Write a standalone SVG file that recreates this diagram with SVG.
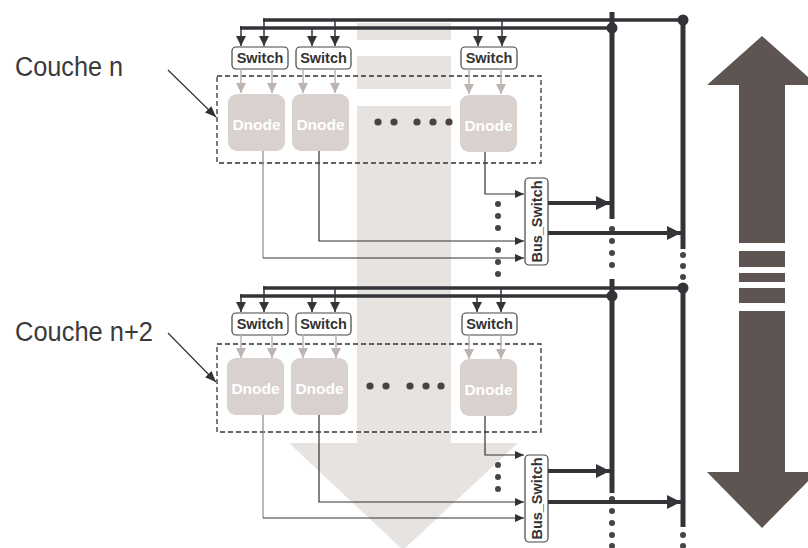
<svg xmlns="http://www.w3.org/2000/svg" width="808" height="548" viewBox="0 0 808 548">
<style>
.bus{stroke:#333338;stroke-width:3.5;fill:none}
.vbus{stroke:#333338;stroke-width:5;fill:none}
.stem{stroke:#333338;stroke-width:1.5;fill:none}
.gstem{stroke:#bdb4b0;stroke-width:1.5;fill:none}
.conn{stroke:#333;stroke-width:1.2;fill:none}
.out{stroke:#333338;stroke-width:4;fill:none}
.sw{fill:#fff;stroke:#444;stroke-width:1.2}
.swt{font-family:"Liberation Sans",Arial,sans-serif;font-weight:bold;font-size:14.5px;fill:#333;text-anchor:middle}
.dn{fill:#d9d1ce}
.dnt{font-family:"Liberation Sans",Arial,sans-serif;font-weight:bold;font-size:15.5px;fill:#fff;text-anchor:middle}
.frame{fill:none;stroke:#333;stroke-width:1.3;stroke-dasharray:5 3}
.dot{fill:#4a4343}
.lbl{font-family:"Liberation Sans",Arial,sans-serif;font-size:27px;fill:#3a3a3a}
</style>
<defs>
<marker id="ah" markerUnits="userSpaceOnUse" markerWidth="10" markerHeight="10" refX="10" refY="5" orient="auto"><path d="M0,0L10,5L0,10z" fill="#333338"/></marker>
<marker id="ahg" markerUnits="userSpaceOnUse" markerWidth="10" markerHeight="10" refX="10" refY="5" orient="auto"><path d="M0,0L10,5L0,10z" fill="#bdb4b0"/></marker>
<marker id="ahs" markerUnits="userSpaceOnUse" markerWidth="9" markerHeight="8" refX="9" refY="4" orient="auto"><path d="M0,0L9,4L0,8z" fill="#333"/></marker>
<marker id="ahb" markerUnits="userSpaceOnUse" markerWidth="14" markerHeight="14" refX="14" refY="7" orient="auto"><path d="M0,0L14,7L0,14z" fill="#333338"/></marker>
<marker id="ahp" markerUnits="userSpaceOnUse" markerWidth="11" markerHeight="9" refX="11" refY="4.5" orient="auto"><path d="M0,0L11,4.5L0,9z" fill="#333"/></marker>
</defs>

<!-- background flow arrow -->
<g id="flow" fill="#e7e3e0">
<rect x="357" y="23" width="94" height="17"/>
<rect x="357" y="56" width="94" height="33"/>
<rect x="357" y="106" width="94" height="338"/>
<polygon points="289,443 518,443 403,550"/>
</g>

<!-- big double arrow -->
<g id="updown" fill="#5e5452">
<polygon points="762,36 817,85 785,85 785,243 739,243 739,85 707,85"/>
<rect x="739" y="251" width="46" height="16"/>
<rect x="739" y="273" width="46" height="9"/>
<rect x="739" y="288" width="46" height="15"/>
<polygon points="739,311 785,311 785,472 817,472 762,528 707,472 739,472"/>
</g>

<!-- labels -->
<g id="label-n"><text class="lbl" x="15" y="76" textLength="108" lengthAdjust="spacingAndGlyphs">Couche n</text></g>
<g id="label-n2"><text class="lbl" x="15" y="341" textLength="138" lengthAdjust="spacingAndGlyphs">Couche n+2</text></g>

<!-- layer n nodes -->
<g id="frame-n"><rect class="frame" x="217" y="76" width="324" height="87"/></g>
<g id="sw1-n"><rect class="sw" x="232" y="47" width="56" height="22" rx="4"/><text class="swt" x="260" y="63">Switch</text></g>
<g id="sw2-n"><rect class="sw" x="296" y="47" width="55" height="22" rx="4"/><text class="swt" x="323.5" y="63">Switch</text></g>
<g id="sw3-n"><rect class="sw" x="461" y="47" width="56" height="22" rx="4"/><text class="swt" x="489" y="63">Switch</text></g>
<g id="dn1-n"><rect class="dn" x="228" y="94" width="57" height="57" rx="9"/><text class="dnt" x="256.5" y="130">Dnode</text></g>
<g id="dn2-n"><rect class="dn" x="292" y="94" width="57" height="57" rx="9"/><text class="dnt" x="320.5" y="130">Dnode</text></g>
<g id="dn3-n"><rect class="dn" x="460" y="95" width="57" height="57" rx="9"/><text class="dnt" x="488.5" y="131">Dnode</text></g>
<g id="dots-n" class="dot"><circle cx="378" cy="122" r="3.6"/><circle cx="394" cy="122" r="3.6"/><circle cx="417" cy="122" r="3.6"/><circle cx="433" cy="122" r="3.6"/><circle cx="449" cy="122" r="3.6"/>
<circle cx="498" cy="204" r="3"/><circle cx="498" cy="216" r="3"/><circle cx="498" cy="228" r="3"/><circle cx="498" cy="250" r="3"/><circle cx="498" cy="262" r="3"/><circle cx="498" cy="274" r="3"/></g>
<g id="bsw-n"><rect class="sw" x="525" y="178" width="23" height="87" rx="4"/><text class="swt" transform="translate(542,221.5) rotate(-90)">Bus_Switch</text></g>

<!-- layer n+2 nodes -->
<g id="frame-n2"><rect class="frame" x="217" y="344" width="324" height="88"/></g>
<g id="sw1-n2"><rect class="sw" x="232" y="313" width="56" height="22" rx="4"/><text class="swt" x="260" y="329">Switch</text></g>
<g id="sw2-n2"><rect class="sw" x="296" y="313" width="55" height="22" rx="4"/><text class="swt" x="323.5" y="329">Switch</text></g>
<g id="sw3-n2"><rect class="sw" x="462" y="313" width="55" height="22" rx="4"/><text class="swt" x="489.5" y="329">Switch</text></g>
<g id="dn1-n2"><rect class="dn" x="227" y="358" width="57" height="57" rx="9"/><text class="dnt" x="255.5" y="394">Dnode</text></g>
<g id="dn2-n2"><rect class="dn" x="291" y="358" width="57" height="57" rx="9"/><text class="dnt" x="319.5" y="394">Dnode</text></g>
<g id="dn3-n2"><rect class="dn" x="460" y="359" width="57" height="57" rx="9"/><text class="dnt" x="488.5" y="395">Dnode</text></g>
<g id="dots-n2" class="dot"><circle cx="370" cy="386" r="3.6"/><circle cx="386" cy="386" r="3.6"/><circle cx="410" cy="386" r="3.6"/><circle cx="426" cy="386" r="3.6"/><circle cx="441" cy="386" r="3.6"/>
<circle cx="498" cy="465" r="3"/><circle cx="498" cy="477" r="3"/><circle cx="498" cy="489" r="3"/></g>
<g id="bsw-n2"><rect class="sw" x="525" y="455" width="23" height="87" rx="4"/><text class="swt" transform="translate(542,498.5) rotate(-90)">Bus_Switch</text></g>

<!-- connectors -->
<g id="connectors">
<line x1="168" y1="70" x2="216" y2="117" stroke="#333" stroke-width="1.2" marker-end="url(#ahp)"/>
<line x1="168" y1="333" x2="216" y2="382" stroke="#333" stroke-width="1.2" marker-end="url(#ahp)"/>

<line class="bus" x1="263" y1="20" x2="683" y2="20"/>
<line class="bus" x1="240" y1="28" x2="612" y2="28"/>
<line class="vbus" x1="612" y1="12" x2="612" y2="219"/>
<line class="vbus" x1="683" y1="20" x2="683" y2="249"/>
<circle cx="612" cy="28" r="5.5" fill="#333338"/>
<circle cx="683" cy="20" r="5.5" fill="#333338"/>
<g class="dot"><circle cx="612" cy="229" r="3"/><circle cx="612" cy="241" r="3"/><circle cx="612" cy="253" r="3"/><circle cx="612" cy="265" r="3"/>
<circle cx="683" cy="255" r="3"/><circle cx="683" cy="266" r="3"/><circle cx="683" cy="277" r="3"/></g>
<path class="stem" d="M241,26V46" marker-end="url(#ah)"/>
<path class="stem" d="M264,18V46" marker-end="url(#ah)"/>
<path class="stem" d="M312,28V46" marker-end="url(#ah)"/>
<path class="stem" d="M335,20V46" marker-end="url(#ah)"/>
<path class="stem" d="M478,28V46" marker-end="url(#ah)"/>
<path class="stem" d="M502,20V46" marker-end="url(#ah)"/>
<path class="gstem" d="M241,69V93" marker-end="url(#ahg)"/>
<path class="gstem" d="M272,69V93" marker-end="url(#ahg)"/>
<path class="gstem" d="M303,69V93" marker-end="url(#ahg)"/>
<path class="gstem" d="M335,69V93" marker-end="url(#ahg)"/>
<path class="gstem" d="M469,69V94" marker-end="url(#ahg)"/>
<path class="gstem" d="M501,69V94" marker-end="url(#ahg)"/>
<path class="conn" d="M485,152V194H524" marker-end="url(#ahs)"/>
<path class="conn" d="M319,151V241H524" marker-end="url(#ahs)"/>
<path d="M263,151V258" stroke="#8a8a8a" stroke-width="1.2" fill="none"/>
<path class="conn" d="M263,258H524" marker-end="url(#ahs)"/>
<path class="out" d="M548,203H610" marker-end="url(#ahb)"/>
<path class="out" d="M548,233H681" marker-end="url(#ahb)"/>

<line class="bus" x1="263" y1="288" x2="683" y2="288"/>
<line class="bus" x1="240" y1="296" x2="612" y2="296"/>
<line class="vbus" x1="612" y1="279" x2="612" y2="493"/>
<line class="vbus" x1="683" y1="288" x2="683" y2="527"/>
<circle cx="612" cy="296" r="5.5" fill="#333338"/>
<circle cx="683" cy="288" r="5.5" fill="#333338"/>
<g class="dot"><circle cx="612" cy="499" r="3"/><circle cx="612" cy="511" r="3"/><circle cx="612" cy="523" r="3"/><circle cx="612" cy="535" r="3"/><circle cx="612" cy="546" r="3"/>
<circle cx="683" cy="535" r="3"/><circle cx="683" cy="546" r="3"/></g>
<path class="stem" d="M241,294V312" marker-end="url(#ah)"/>
<path class="stem" d="M264,286V312" marker-end="url(#ah)"/>
<path class="stem" d="M312,296V312" marker-end="url(#ah)"/>
<path class="stem" d="M335,288V312" marker-end="url(#ah)"/>
<path class="stem" d="M477,296V312" marker-end="url(#ah)"/>
<path class="stem" d="M501,288V312" marker-end="url(#ah)"/>
<path class="gstem" d="M241,335V358" marker-end="url(#ahg)"/>
<path class="gstem" d="M272,335V358" marker-end="url(#ahg)"/>
<path class="gstem" d="M303,335V358" marker-end="url(#ahg)"/>
<path class="gstem" d="M336,335V358" marker-end="url(#ahg)"/>
<path class="gstem" d="M469,335V359" marker-end="url(#ahg)"/>
<path class="gstem" d="M501,335V359" marker-end="url(#ahg)"/>
<path class="conn" d="M485,416V455H524" marker-end="url(#ahs)"/>
<path class="conn" d="M319,415V502H524" marker-end="url(#ahs)"/>
<path d="M263,415V518" stroke="#8a8a8a" stroke-width="1.2" fill="none"/>
<path class="conn" d="M263,518H524" marker-end="url(#ahs)"/>
<path class="out" d="M548,471H610" marker-end="url(#ahb)"/>
<path class="out" d="M548,502H681" marker-end="url(#ahb)"/>
</g>
</svg>
